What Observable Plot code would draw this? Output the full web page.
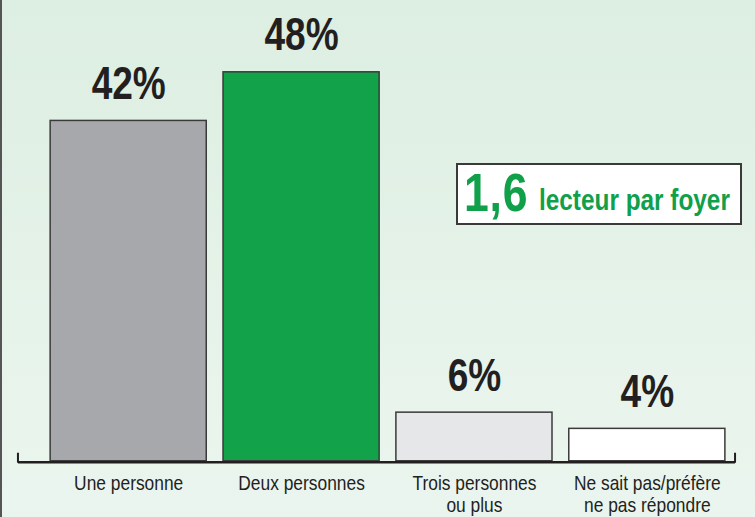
<!DOCTYPE html>
<html>
<head>
<meta charset="utf-8">
<script src="https://cdn.jsdelivr.net/npm/d3@7"></script>
<script src="https://cdn.jsdelivr.net/npm/@observablehq/plot@0.6"></script>
<style>
  html, body { margin: 0; padding: 0; }
  #wrap {
    position: relative; width: 755px; height: 517px; overflow: hidden;
    background: linear-gradient(to bottom, #ddeee2 0%, #e4f2e8 50%, #ebf5ef 100%);
    box-sizing: border-box; border-left: 2px solid #555;
  }
  #wrap svg { position: absolute; left: -2px; top: 0; background: transparent; }
  #box {
    position: absolute; left: 454px; top: 163px; width: 286px; height: 62px;
    box-sizing: border-box; border: 2px solid #3a3a3a; background: #fff;
    color: #10a04a; font-family: "Liberation Sans", Arial, sans-serif; font-weight: bold;
    white-space: nowrap; line-height: 1;
  }
  #box span { position: absolute; transform: scaleX(0.84); transform-origin: 0 0; }
  #box .big { left: 6px; top: 1px; font-size: 53px; letter-spacing: 1px; }
  #box .small { left: 81px; top: 21px; font-size: 29px; }
</style>
</head>
<body>
<div id="wrap">
  <div id="box"><span class="big">1,6</span><span class="small">lecteur par foyer</span></div>
</div>
<script>
const categories = ["Une personne", "Deux personnes", "Trois personnes\nou plus", "Ne sait pas/préfère\nne pas répondre"];
const values = [42, 48, 6, 4];
const valueLabels = ["42%", "48%", "6%", "4%"];
const colors = ["#a7a8ab", "#12a24a", "#e6e7e8", "#ffffff"];

const data = categories.map((c, i) => ({category: c, value: values[i], label: valueLabels[i], color: colors[i]}));
const font = "'Liberation Sans', Arial, sans-serif";

const endTicks = (index, scales, values, dimensions) => {
  const y0 = scales.y(0);
  const xl = dimensions.marginLeft, xr = dimensions.width - dimensions.marginRight;
  const g = d3.create("svg:path")
    .attr("d", `M${xl},${y0 - 8}V${y0 + 2}M${xr},${y0 - 8}V${y0 + 2}`)
    .attr("stroke", "#231f20").attr("stroke-width", 2).attr("fill", "none");
  return g.node();
};

const chart = Plot.plot({
  width: 755,
  height: 517,
  marginLeft: 18,
  marginRight: 18,
  marginTop: 0,
  marginBottom: 55,
  style: {background: "transparent", fontFamily: font},
  x: {domain: categories, paddingInner: 0.097, paddingOuter: 0.1225, align: 0.76, round: false, label: null},
  y: {domain: [0, 48], range: [462, 72], axis: null},
  color: {type: "identity"},
  marks: [
    Plot.barY(data, {x: "category", y: "value", fill: "color", stroke: "#3a3a3a", strokeWidth: 1.5}),
    Plot.ruleY([0], {stroke: "#231f20", strokeWidth: 2.5, dy: 1}),
    Plot.ruleY([0], {render: endTicks}),
    Plot.text(data, {x: "category", y: "value", text: "label", dy: -22, lineAnchor: "bottom",
      fontSize: 47, fontWeight: "bold", fill: "#231f20", fontFamily: font}),
    Plot.axisX({tickSize: 0, tickPadding: 13, fontSize: 21, lineHeight: 1.05, fill: "#231f20",
      fontFamily: font, label: null})
  ]
});

// condense the glyphs horizontally (narrow typeface look)
function condense(sel, s) {
  d3.select(chart).selectAll(sel).each(function () {
    const t = d3.select(this);
    let tr = t.attr("transform");
    if (!tr) {
      const x = +t.attr("x") || 0, y = +t.attr("y") || 0;
      tr = `translate(${x},${y})`;
      t.attr("x", null).attr("y", null);
    }
    t.attr("transform", tr + ` scale(${s},1)`);
  });
}
condense('g[aria-label="text"] > text', 0.79);
condense('g[aria-label="x-axis tick label"] > text', 0.83);

document.getElementById("wrap").prepend(chart);
</script>
</body>
</html>
